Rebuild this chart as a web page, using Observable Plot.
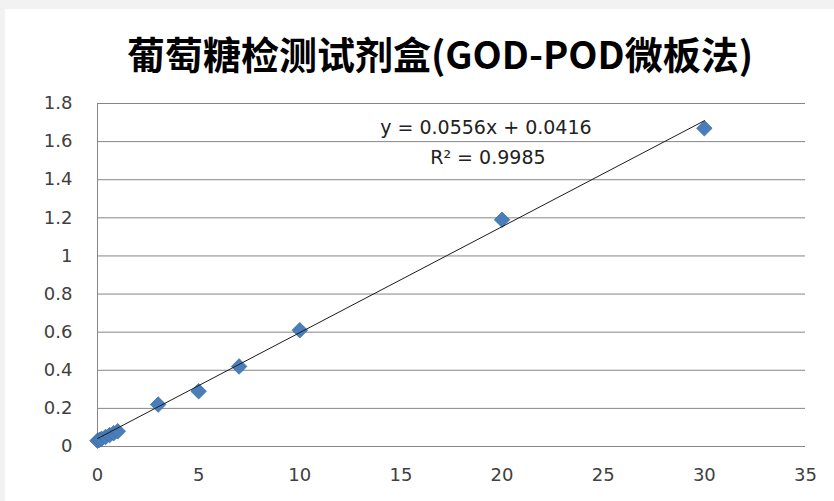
<!DOCTYPE html>
<html>
<head>
<meta charset="utf-8">
<script src="https://cdn.jsdelivr.net/npm/d3@7"></script>
<script src="https://cdn.jsdelivr.net/npm/@observablehq/plot@0.6"></script>
<style>
  html, body { margin: 0; padding: 0; background: #f2f2f2; }
  #panel { position: absolute; left: 5px; top: 9px; width: 829px; height: 492px; background: #ffffff; overflow: hidden; }
  #title { height: 68px; padding-top: 10px; line-height: 68px; padding-left: 41px; text-align: center;
           font-family: "Noto Sans CJK SC", "Noto Sans", sans-serif; font-weight: bold; font-size: 38px; color: #000; white-space: nowrap; }
  #chart svg { display: block; }
</style>
</head>
<body>
<div id="panel">
  <div id="title">葡萄糖检测试剂盒(GOD-POD微板法)</div>
  <div id="chart"></div>
</div>
<script>
// Data
const concentration = [0, 0.1, 0.2, 0.4, 0.6, 0.8, 1.0, 3, 5, 7, 10, 20, 30];
const absorbance    = [0.03, 0.035, 0.04, 0.05, 0.06, 0.07, 0.08, 0.22, 0.29, 0.42, 0.61, 1.19, 1.67];
const slope = [0.0556];
const intercept = [0.0416];
const trendRange = [0, 30];
const equationText = ["y = 0.0556x + 0.0416"];
const r2Text = ["R² = 0.9985"];
const xTicks = [0, 5, 10, 15, 20, 25, 30, 35];
const yTicks = [0, 0.2, 0.4, 0.6, 0.8, 1, 1.2, 1.4, 1.6, 1.8];

const points = concentration.map((x, i) => ({x, y: absorbance[i]}));
const trend = trendRange.map(x => ({x, y: slope[0] * x + intercept[0]}));

const chart = Plot.plot({
  width: 829,
  height: 414,
  marginTop: 16,
  marginBottom: 55,
  marginLeft: 92,
  marginRight: 29,
  style: { fontFamily: "DejaVu Sans, sans-serif", fontSize: "18px", color: "#404040", background: "transparent" },
  x: { domain: [0, 35], ticks: xTicks, tickFormat: d => String(d), label: null, tickSize: 0, tickPadding: 22 },
  y: { domain: [0, 1.8], ticks: yTicks, tickFormat: d => String(+d.toFixed(1)), label: null, tickSize: 0, tickPadding: 25 },
  marks: [
    Plot.gridY(yTicks, { stroke: "#868686", strokeOpacity: 1, strokeWidth: 1 }),
    Plot.ruleY([0], { stroke: "#868686", strokeWidth: 1 }),
    Plot.ruleX([0], { stroke: "#868686", strokeWidth: 1 }),
    Plot.axisX({ ticks: xTicks, tickFormat: d => String(d), tickSize: 0, tickPadding: 22, label: null, fill: "#404040" }),
    Plot.axisY({ ticks: yTicks, tickFormat: d => String(+d.toFixed(1)), tickSize: 0, tickPadding: 25, label: null, fill: "#404040" }),
    Plot.dot(points, { x: "x", y: "y", symbol: "diamond2", r: 7, fill: "#4a7ebb", stroke: "#3c6ca4", strokeWidth: 0.8 }),
    Plot.line(trend, { x: "x", y: "y", stroke: "#1a1a1a", strokeWidth: 1 }),
    Plot.text(equationText, { x: 19.2, y: 1.67, text: d => d, fontSize: 19, fill: "#222", fontFamily: "DejaVu Sans, sans-serif" }),
    Plot.text(r2Text, { x: 19.3, y: 1.513, text: d => d, fontSize: 19, fill: "#222", fontFamily: "DejaVu Sans, sans-serif" })
  ]
});
document.getElementById("chart").appendChild(chart);
</script>
</body>
</html>
